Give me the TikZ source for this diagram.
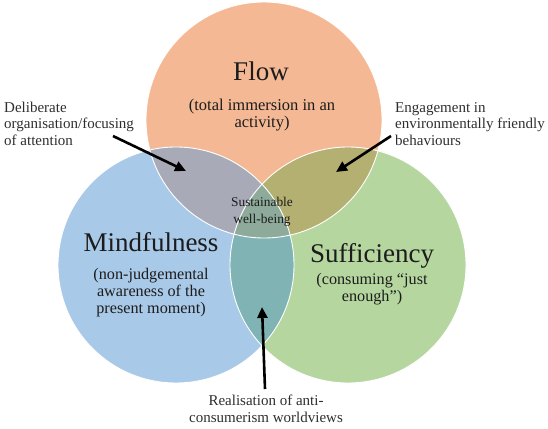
\documentclass[tikz,border=0pt]{standalone}
\usepackage{fontspec}
\setmainfont{Liberation Serif}
\usetikzlibrary{arrows.meta}
\definecolor{cflow}{HTML}{F4B994}
\definecolor{cmind}{HTML}{A9C9E8}
\definecolor{csuff}{HTML}{B6D6A0}
\definecolor{cfm}{HTML}{A9AAB8}
\definecolor{cfs}{HTML}{B3B072}
\definecolor{cms}{HTML}{80B3B4}
\definecolor{call}{HTML}{8DAA9A}
\definecolor{ctext}{HTML}{1C1C1C}
\definecolor{cnote}{HTML}{2E2E2E}
\tikzset{
  title/.style={inner sep=0pt, text=ctext, font=\fontsize{27}{30}\selectfont},
  subtitle/.style={inner sep=0pt, text=ctext, align=center, font=\fontsize{16.5}{16.8}\selectfont},
  note/.style={inner sep=0pt, text=cnote, font=\fontsize{15}{16.6}\selectfont},
  pointer/.style={line width=2.6pt, -{Triangle[length=11pt,width=10pt]}},
  rim/.style={draw=white, line width=0.9pt}
}
\begin{document}
\begin{tikzpicture}[x=1pt,y=-1pt]
\useasboundingbox (0,0) rectangle (548,428);
\def\flowc{(264,120) circle (118)}
\def\mindc{(176,265) circle (118)}
\def\suffc{(348,265) circle (118)}
% base circles
\fill[cflow] \flowc;
\fill[cmind] \mindc;
\fill[csuff] \suffc;
% pairwise overlaps
\begin{scope}\clip \flowc; \fill[cfm] \mindc; \end{scope}
\begin{scope}\clip \flowc; \fill[cfs] \suffc; \end{scope}
\begin{scope}\clip \mindc; \fill[cms] \suffc; \end{scope}
\begin{scope}\clip \flowc; \clip \mindc; \fill[call] \suffc; \end{scope}
% rims
\draw[rim] \flowc;
\draw[rim] \mindc;
\draw[rim] \suffc;
% titles
\node[title, anchor=base] (flow) at (261,80) {Flow};
\node[subtitle] (flowsub) at (262,115) {(total immersion in an\\activity)};
\node[title] (mind) at (151,242) {Mindfulness};
\node[subtitle, font=\fontsize{16.2}{17}\selectfont] (mindsub) at (151,293) {(non-judgemental\\awareness of the\\present moment)};
\node[title, anchor=base] (suff) at (372,262) {Sufficiency};
\node[subtitle, font=\fontsize{16.2}{17.5}\selectfont] (suffsub) at (372,289) {(consuming “just\\enough”)};
\node[subtitle, font=\fontsize{13.4}{17}\selectfont] (center) at (262,211.5) {Sustainable\\well-being};
% notes
\node[note, anchor=west, align=left] (noteleft) at (4,123.5) {Deliberate\\organisation/focusing\\of attention};
\node[note, anchor=west, align=left] (noteright) at (395,124) {Engagement in\\environmentally friendly\\behaviours};
\node[note, align=center] (notebottom) at (266,408.5) {Realisation of anti-\\consumerism worldviews};
% arrows
\coordinate (lt) at (113,136);
\coordinate (lh) at (186,171);
\coordinate (rt) at (391,136);
\coordinate (rh) at (336,172);
\coordinate (bt) at (265,389);
\coordinate (bh) at (262,307);
\draw[pointer] (lt) -- (lh);
\draw[pointer] (rt) -- (rh);
\draw[pointer] (bt) -- (bh);
\end{tikzpicture}
\end{document}
